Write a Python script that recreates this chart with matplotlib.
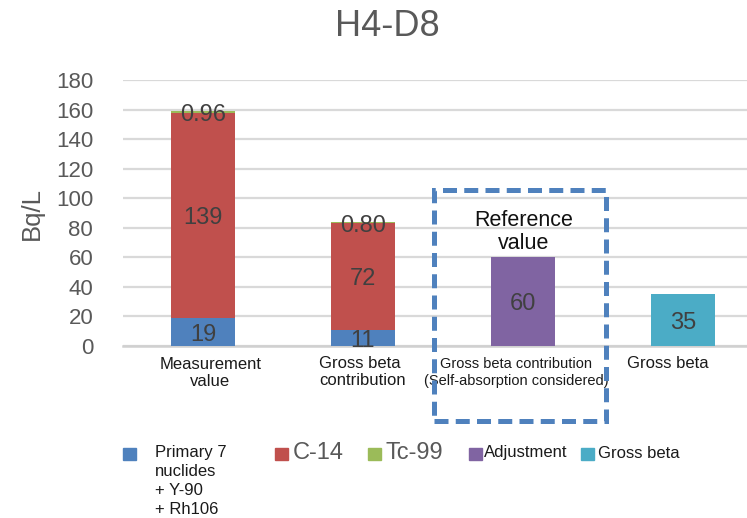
import matplotlib
matplotlib.use("Agg")
import matplotlib.pyplot as plt
from matplotlib.patches import Rectangle

plt.rcParams['font.family'] = ['Liberation Sans', 'DejaVu Sans']

categories = ["Measurement\nvalue", "Gross beta\ncontribution",
              "Gross beta contribution\n(Self-absorption considered)", "Gross beta"]
primary7 = [19, 11, 0, 0]
c14 = [139, 72, 0, 0]
tc99 = [0.96, 0.80, 0, 0]
adjustment = [0, 0, 60, 0]
gross_beta = [0, 0, 0, 35]
yticks = [0, 20, 40, 60, 80, 100, 120, 140, 160, 180]
legend_labels = ["Primary 7\nnuclides\n+ Y-90\n+ Rh106", "C-14", "Tc-99",
                 "Adjustment", "Gross beta"]

C_BLUE = "#4f81bd"
C_RED = "#c0504d"
C_GREEN = "#9bbb59"
C_PURPLE = "#8064a2"
C_TEAL = "#4bacc6"
TXT = "#404040"
GREY = "#595959"
DARK = "#1a1a1a"

fig = plt.figure(figsize=(7.47, 5.18), dpi=100)
W, H = 747, 518


def fx(px):
    return px / W


def fy(py):
    return 1 - py / H


ax = fig.add_axes([fx(123), fy(346), 640 / W, 266 / H])

x = list(range(len(categories)))
bw = 0.4
ax.bar(x, primary7, bw, color=C_BLUE, zorder=3)
ax.bar(x, c14, bw, bottom=primary7, color=C_RED, zorder=3)
bot3 = [a + b for a, b in zip(primary7, c14)]
ax.bar(x, tc99, bw, bottom=bot3, color=C_GREEN, zorder=3)
ax.bar(x, adjustment, bw, color=C_PURPLE, zorder=3)
ax.bar(x, gross_beta, bw, color=C_TEAL, zorder=3)


def seg_label(xi, ymid, txt):
    ax.annotate(txt, (xi, ymid), xytext=(0, -2), textcoords="offset points",
                ha="center", va="center", fontsize=17, color=TXT, zorder=5)


for i in x:
    if primary7[i]:
        seg_label(i, primary7[i] / 2, f"{primary7[i]}")
    if c14[i]:
        seg_label(i, primary7[i] + c14[i] / 2, f"{c14[i]}")
    if tc99[i]:
        seg_label(i, bot3[i] + tc99[i] / 2, f"{tc99[i]:.2f}")
    if adjustment[i]:
        seg_label(i, adjustment[i] / 2, f"{adjustment[i]}")
    if gross_beta[i]:
        seg_label(i, gross_beta[i] / 2, f"{gross_beta[i]}")

ax.set_xlim(-0.5, 3.5)
ax.set_ylim(0, 180)
ax.set_yticks(yticks)
ax.set_yticklabels([str(v) for v in yticks], fontsize=16, color=GREY)
ax.yaxis.grid(True, color="#d9d9d9", lw=1.6, zorder=0)
ax.set_axisbelow(True)
for s in ["top", "right", "left"]:
    ax.spines[s].set_visible(False)
ax.spines["bottom"].set_color("#d0d0d0")
ax.spines["bottom"].set_linewidth(1.8)
ax.tick_params(axis="y", length=0, pad=21.5)
ax.set_xticks([])

# category labels under the bars
cat_pos = [(210.5, 373, 12, 1.21, "center"), (362.5, 372, 12, 1.21, "left"),
           (516.5, 372.5, 10.5, 1.24, "center"), (668, 363, 12, 1.2, "center")]
for (cx, cy, fs, ls, ma), lab in zip(cat_pos, categories):
    fig.text(fx(cx), fy(cy), lab, ha="center", va="center", fontsize=fs,
             color=DARK, linespacing=ls, multialignment=ma)

fig.text(fx(32), fy(213), "Bq/L", rotation=90, ha="center", va="center",
         fontsize=18.5, color=GREY)
fig.text(fx(387), fy(26), "H4-D8", ha="center", va="center", fontsize=26,
         color=GREY)

# highlighted reference bar
fig.patches.append(Rectangle((fx(433.5), fy(420.5)), 172 / W, 231 / H,
                             transform=fig.transFigure, fill=False,
                             edgecolor=C_BLUE, lw=3.6, ls=(0, (2.8, 1.45)),
                             zorder=10))
fig.text(fx(524), fy(232), "Reference\nvalue", ha="center", va="center",
         fontsize=15.5, color="#111111", linespacing=1.09)

# legend
leg_colors = [C_BLUE, C_RED, C_GREEN, C_PURPLE, C_TEAL]
leg_square_x = [123, 275, 368, 469, 581]
leg_text_x = [155, 293, 385, 484, 598]
leg_sizes = [12, 17, 17, 12, 12]
leg_text_colors = [DARK, GREY, GREY, DARK, DARK]
line_y = [453, 472, 490.5, 509]
for col, mx, tx, fs, tcol, txt in zip(leg_colors, leg_square_x, leg_text_x,
                                      leg_sizes, leg_text_colors, legend_labels):
    fig.patches.append(Rectangle((fx(mx), fy(460)), 13 / W, 12 / H,
                                 transform=fig.transFigure, color=col))
    for ly, line in zip(line_y, txt.split("\n")):
        fig.text(fx(tx), fy(ly), line, ha="left", va="center", fontsize=fs,
                 color=tcol)

fig.savefig("out.png", dpi=100)
